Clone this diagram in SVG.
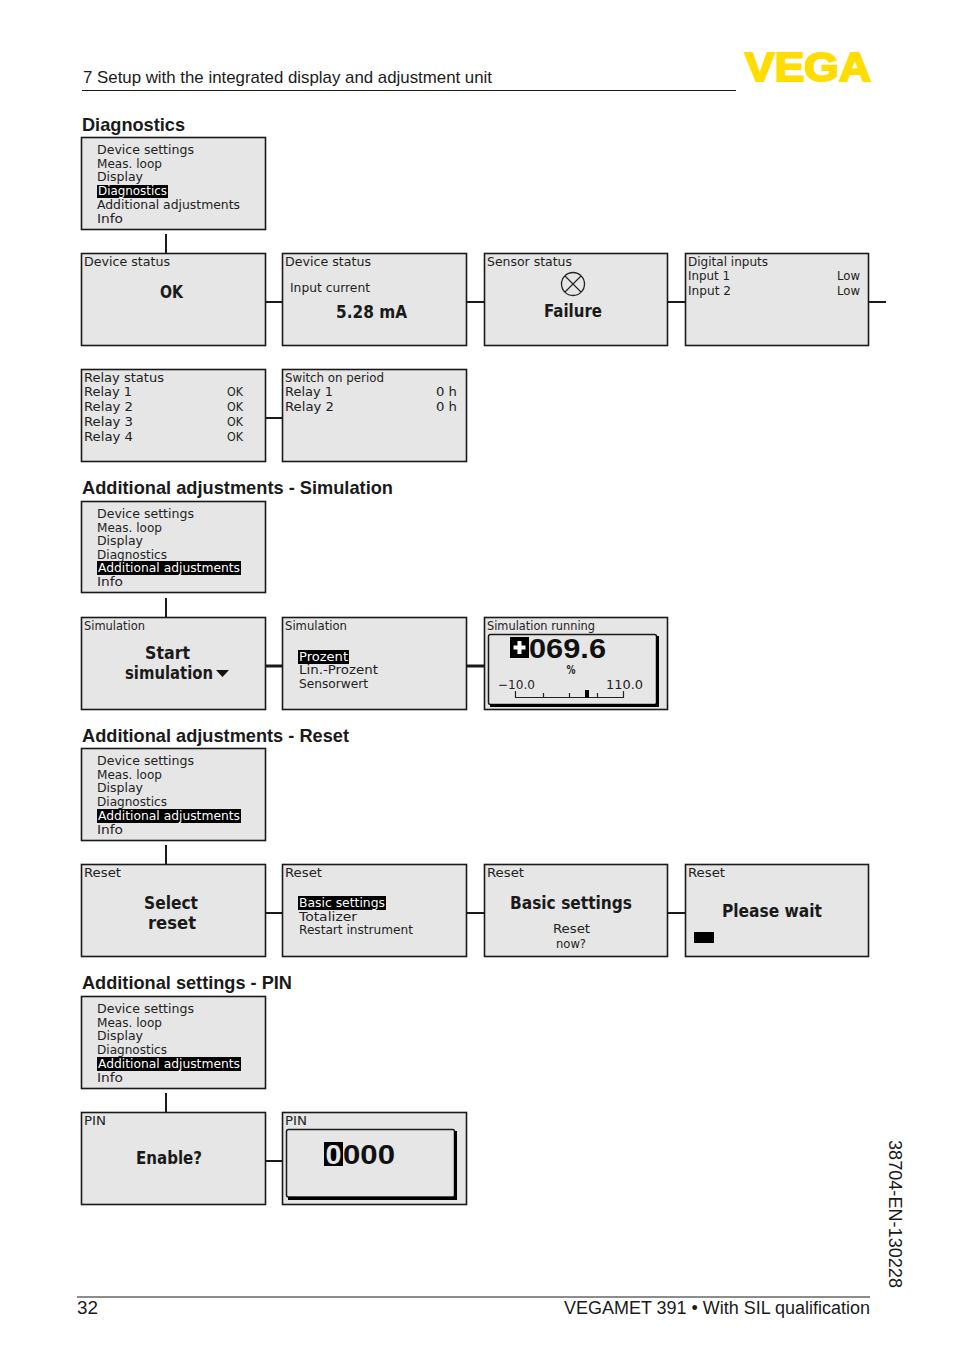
<svg xmlns="http://www.w3.org/2000/svg" width="954" height="1354" viewBox="0 0 954 1354">
<style>
.box{fill:#e6e6e6;stroke:#1a1a1a;stroke-width:1.6}
.hd{font-family:"Liberation Sans",Arial,sans-serif;font-size:17px;fill:#1a1a1a}
.ti{font-family:"Liberation Sans",Arial,sans-serif;font-size:18.5px;font-weight:bold;fill:#1a1a1a}
.s{font-family:"DejaVu Sans",sans-serif;font-size:12.5px;fill:#222}
.b{font-family:"DejaVu Sans",sans-serif;font-size:17px;font-weight:bold;fill:#1a1a1a}
.w{fill:#fff}
.k{fill:#000}
.con{stroke:#1a1a1a;stroke-width:2;fill:none}
.con2{stroke:#1a1a1a;stroke-width:3;fill:none}
.pn{fill:none;stroke:#1a1a1a;stroke-width:1.5}
.sh{fill:none;stroke:#000;stroke-width:3}
</style>
<rect width="954" height="1354" fill="#fff"/>
<g id="header">
<text class="hd" x="83" y="83" textLength="409" lengthAdjust="spacingAndGlyphs">7 Setup with the integrated display and adjustment unit</text>
<line x1="82" y1="90.5" x2="736" y2="90.5" stroke="#1a1a1a" stroke-width="1.2"/>
<text x="745" y="81" textLength="126" lengthAdjust="spacingAndGlyphs" style="font-family:'Liberation Sans',Arial,sans-serif;font-size:40px;font-weight:bold;fill:#ffdd00;stroke:#ffdd00;stroke-width:2">VEGA</text>
</g>
<text class="ti" x="82" y="131" textLength="103" lengthAdjust="spacingAndGlyphs">Diagnostics</text>
<text class="ti" x="82" y="494" textLength="311" lengthAdjust="spacingAndGlyphs">Additional adjustments - Simulation</text>
<text class="ti" x="82" y="742" textLength="267" lengthAdjust="spacingAndGlyphs">Additional adjustments - Reset</text>
<text class="ti" x="82" y="989" textLength="210" lengthAdjust="spacingAndGlyphs">Additional settings - PIN</text>
<g id="connectors">
<path class="con" d="M166 234V254M266 302H283M467 302H485M668 302H686M869 302H886M266 418H283M166 598V618M166 845V865M266 913H283M467 913H485M668 913H686M166 1093V1113M266 1161H283"/>
<path class="con2" d="M266 666H283M467 666H485"/>
</g>
<g id="menu-diagnostics">
<rect class="box" x="81.5" y="137.5" width="184" height="92"/>
<rect class="k" x="97" y="185" width="71" height="13"/>
<text class="s" x="97" y="154" textLength="97" lengthAdjust="spacingAndGlyphs">Device settings</text>
<text class="s" x="97" y="168" textLength="65" lengthAdjust="spacingAndGlyphs">Meas. loop</text>
<text class="s" x="97" y="181" textLength="46" lengthAdjust="spacingAndGlyphs">Display</text>
<text class="s w" x="98" y="195" textLength="69" lengthAdjust="spacingAndGlyphs">Diagnostics</text>
<text class="s" x="97" y="209" textLength="143" lengthAdjust="spacingAndGlyphs">Additional adjustments</text>
<text class="s" x="97" y="223" textLength="26" lengthAdjust="spacingAndGlyphs">Info</text>
</g>
<g id="device-status-ok">
<rect class="box" x="81.5" y="253.5" width="184" height="92"/>
<text class="s" x="84" y="266" textLength="86" lengthAdjust="spacingAndGlyphs">Device status</text>
<text class="b" x="160" y="298" textLength="23" lengthAdjust="spacingAndGlyphs">OK</text>
</g>
<g id="device-status-current">
<rect class="box" x="282.5" y="253.5" width="184" height="92"/>
<text class="s" x="285" y="266" textLength="86" lengthAdjust="spacingAndGlyphs">Device status</text>
<text class="s" x="290" y="292" textLength="80" lengthAdjust="spacingAndGlyphs">Input current</text>
<text class="b" x="336" y="318" textLength="71" lengthAdjust="spacingAndGlyphs">5.28 mA</text>
</g>
<g id="sensor-status">
<rect class="box" x="484.5" y="253.5" width="183" height="92"/>
<text class="s" x="487" y="266" textLength="85" lengthAdjust="spacingAndGlyphs">Sensor status</text>
<circle cx="573" cy="284" r="11.5" fill="none" stroke="#222" stroke-width="1.3"/>
<path d="M565 276L581 292M581 276L565 292" stroke="#222" stroke-width="1.1" fill="none"/>
<text class="b" x="544" y="317" textLength="58" lengthAdjust="spacingAndGlyphs">Failure</text>
</g>
<g id="digital-inputs">
<rect class="box" x="685.5" y="253.5" width="183" height="92"/>
<text class="s" x="688" y="266" textLength="80" lengthAdjust="spacingAndGlyphs">Digital inputs</text>
<text class="s" x="688" y="280" textLength="42" lengthAdjust="spacingAndGlyphs">Input 1</text>
<text class="s" x="837" y="280" textLength="23" lengthAdjust="spacingAndGlyphs">Low</text>
<text class="s" x="688" y="295" textLength="43" lengthAdjust="spacingAndGlyphs">Input 2</text>
<text class="s" x="837" y="295" textLength="23" lengthAdjust="spacingAndGlyphs">Low</text>
</g>
<g id="relay-status">
<rect class="box" x="81.5" y="369.5" width="184" height="92"/>
<text class="s" x="84" y="382" textLength="80" lengthAdjust="spacingAndGlyphs">Relay status</text>
<text class="s" x="84" y="396" textLength="48" lengthAdjust="spacingAndGlyphs">Relay 1</text>
<text class="s" x="227" y="396" textLength="16" lengthAdjust="spacingAndGlyphs">OK</text>
<text class="s" x="84" y="411" textLength="49" lengthAdjust="spacingAndGlyphs">Relay 2</text>
<text class="s" x="227" y="411" textLength="16" lengthAdjust="spacingAndGlyphs">OK</text>
<text class="s" x="84" y="426" textLength="49" lengthAdjust="spacingAndGlyphs">Relay 3</text>
<text class="s" x="227" y="426" textLength="16" lengthAdjust="spacingAndGlyphs">OK</text>
<text class="s" x="84" y="441" textLength="49" lengthAdjust="spacingAndGlyphs">Relay 4</text>
<text class="s" x="227" y="441" textLength="16" lengthAdjust="spacingAndGlyphs">OK</text>
</g>
<g id="switch-on-period">
<rect class="box" x="282.5" y="369.5" width="184" height="92"/>
<text class="s" x="285" y="382" textLength="99" lengthAdjust="spacingAndGlyphs">Switch on period</text>
<text class="s" x="285" y="396" textLength="48" lengthAdjust="spacingAndGlyphs">Relay 1</text>
<text class="s" x="436" y="396" textLength="21" lengthAdjust="spacingAndGlyphs">0 h</text>
<text class="s" x="285" y="411" textLength="49" lengthAdjust="spacingAndGlyphs">Relay 2</text>
<text class="s" x="436" y="411" textLength="21" lengthAdjust="spacingAndGlyphs">0 h</text>
</g>
<g id="menu-simulation">
<rect class="box" x="81.5" y="501.5" width="184" height="91"/>
<rect class="k" x="97" y="561" width="144" height="14"/>
<text class="s" x="97" y="518" textLength="97" lengthAdjust="spacingAndGlyphs">Device settings</text>
<text class="s" x="97" y="532" textLength="65" lengthAdjust="spacingAndGlyphs">Meas. loop</text>
<text class="s" x="97" y="545" textLength="46" lengthAdjust="spacingAndGlyphs">Display</text>
<text class="s" x="97" y="559" textLength="70" lengthAdjust="spacingAndGlyphs">Diagnostics</text>
<text class="s w" x="98" y="572" textLength="142" lengthAdjust="spacingAndGlyphs">Additional adjustments</text>
<text class="s" x="97" y="586" textLength="26" lengthAdjust="spacingAndGlyphs">Info</text>
</g>
<g id="simulation-start">
<rect class="box" x="81.5" y="617.5" width="184" height="92"/>
<text class="s" x="84" y="630" textLength="61" lengthAdjust="spacingAndGlyphs">Simulation</text>
<text class="b" x="145" y="659" textLength="45" lengthAdjust="spacingAndGlyphs">Start</text>
<text class="b" x="125" y="679" textLength="88" lengthAdjust="spacingAndGlyphs">simulation</text>
<polygon points="216,670 229,670 222.5,677" fill="#111"/>
</g>
<g id="simulation-select">
<rect class="box" x="282.5" y="617.5" width="184" height="92"/>
<text class="s" x="285" y="630" textLength="62" lengthAdjust="spacingAndGlyphs">Simulation</text>
<rect class="k" x="298" y="650" width="51" height="14"/>
<text class="s w" x="299" y="661" textLength="49" lengthAdjust="spacingAndGlyphs">Prozent</text>
<text class="s" x="299" y="674" textLength="79" lengthAdjust="spacingAndGlyphs">Lin.-Prozent</text>
<text class="s" x="299" y="688" textLength="69" lengthAdjust="spacingAndGlyphs">Sensorwert</text>
</g>
<g id="simulation-running">
<rect class="box" x="484.5" y="617.5" width="183" height="92"/>
<text class="s" x="487" y="630" textLength="108" lengthAdjust="spacingAndGlyphs">Simulation running</text>
<rect class="pn" x="488.5" y="634.5" width="168" height="70" rx="2"/>
<path class="sh" d="M657.5 636V705.5H490"/>
<rect class="k" x="510" y="637" width="19" height="21"/>
<path d="M519.5 641V654M513.5 647.5H525.5" stroke="#fff" stroke-width="4" fill="none"/>
<text x="529" y="658" textLength="77" lengthAdjust="spacingAndGlyphs" style="font-family:'Liberation Sans',sans-serif;font-size:28px;font-weight:bold;fill:#111">069.6</text>
<text class="s" x="566.500" y="674" textLength="9" lengthAdjust="spacingAndGlyphs" style="font-weight:bold">%</text>
<text class="s" x="498" y="689" textLength="37" lengthAdjust="spacingAndGlyphs">−10.0</text>
<text class="s" x="606" y="689" textLength="37" lengthAdjust="spacingAndGlyphs">110.0</text>
<path d="M515.5 691V697.5H623.5V691M543.5 693V697M569.5 693V697M597.5 693V697" fill="none" stroke="#222" stroke-width="1.2"/>
<rect class="k" x="585" y="690" width="4" height="8"/>
</g>
<g id="menu-reset">
<rect class="box" x="81.5" y="748.5" width="184" height="92"/>
<rect class="k" x="97" y="809" width="144" height="14"/>
<text class="s" x="97" y="765" textLength="97" lengthAdjust="spacingAndGlyphs">Device settings</text>
<text class="s" x="97" y="779" textLength="65" lengthAdjust="spacingAndGlyphs">Meas. loop</text>
<text class="s" x="97" y="792" textLength="46" lengthAdjust="spacingAndGlyphs">Display</text>
<text class="s" x="97" y="806" textLength="70" lengthAdjust="spacingAndGlyphs">Diagnostics</text>
<text class="s w" x="98" y="820" textLength="142" lengthAdjust="spacingAndGlyphs">Additional adjustments</text>
<text class="s" x="97" y="834" textLength="26" lengthAdjust="spacingAndGlyphs">Info</text>
</g>
<g id="reset-select">
<rect class="box" x="81.5" y="864.5" width="184" height="92"/>
<text class="s" x="84" y="877" textLength="37" lengthAdjust="spacingAndGlyphs">Reset</text>
<text class="b" x="144" y="909" textLength="54" lengthAdjust="spacingAndGlyphs">Select</text>
<text class="b" x="148" y="929" textLength="48" lengthAdjust="spacingAndGlyphs">reset</text>
</g>
<g id="reset-options">
<rect class="box" x="282.5" y="864.5" width="184" height="92"/>
<text class="s" x="285" y="877" textLength="37" lengthAdjust="spacingAndGlyphs">Reset</text>
<rect class="k" x="298" y="896" width="88" height="14"/>
<text class="s w" x="299" y="907" textLength="86" lengthAdjust="spacingAndGlyphs">Basic settings</text>
<text class="s" x="299" y="921" textLength="58" lengthAdjust="spacingAndGlyphs">Totalizer</text>
<text class="s" x="299" y="934" textLength="114" lengthAdjust="spacingAndGlyphs">Restart instrument</text>
</g>
<g id="reset-confirm">
<rect class="box" x="484.5" y="864.5" width="183" height="92"/>
<text class="s" x="487" y="877" textLength="37" lengthAdjust="spacingAndGlyphs">Reset</text>
<text class="b" x="510" y="909" textLength="122" lengthAdjust="spacingAndGlyphs">Basic settings</text>
<text class="s" x="553" y="933" textLength="37" lengthAdjust="spacingAndGlyphs">Reset</text>
<text class="s" x="556" y="948" textLength="30" lengthAdjust="spacingAndGlyphs">now?</text>
</g>
<g id="reset-wait">
<rect class="box" x="685.5" y="864.5" width="183" height="92"/>
<text class="s" x="688" y="877" textLength="37" lengthAdjust="spacingAndGlyphs">Reset</text>
<text class="b" x="722" y="917" textLength="100" lengthAdjust="spacingAndGlyphs">Please wait</text>
<rect class="k" x="694" y="932" width="20" height="11"/>
</g>
<g id="menu-pin">
<rect class="box" x="81.5" y="996.5" width="184" height="92"/>
<rect class="k" x="97" y="1057" width="144" height="14"/>
<text class="s" x="97" y="1013" textLength="97" lengthAdjust="spacingAndGlyphs">Device settings</text>
<text class="s" x="97" y="1027" textLength="65" lengthAdjust="spacingAndGlyphs">Meas. loop</text>
<text class="s" x="97" y="1040" textLength="46" lengthAdjust="spacingAndGlyphs">Display</text>
<text class="s" x="97" y="1054" textLength="70" lengthAdjust="spacingAndGlyphs">Diagnostics</text>
<text class="s w" x="98" y="1068" textLength="142" lengthAdjust="spacingAndGlyphs">Additional adjustments</text>
<text class="s" x="97" y="1082" textLength="26" lengthAdjust="spacingAndGlyphs">Info</text>
</g>
<g id="pin-enable">
<rect class="box" x="81.5" y="1112.5" width="184" height="92"/>
<text class="s" x="84" y="1125" textLength="22" lengthAdjust="spacingAndGlyphs">PIN</text>
<text class="b" x="136" y="1164" textLength="66" lengthAdjust="spacingAndGlyphs">Enable?</text>
</g>
<g id="pin-entry">
<rect class="box" x="282.5" y="1112.5" width="184" height="92"/>
<text class="s" x="285" y="1125" textLength="22" lengthAdjust="spacingAndGlyphs">PIN</text>
<rect class="pn" x="286.5" y="1129.5" width="168" height="67.500" rx="2"/>
<path class="sh" d="M455.500 1131V1198.500H288"/>
<rect class="k" x="324" y="1142" width="19" height="24"/>
<text x="325.500" y="1164" textLength="16" lengthAdjust="spacingAndGlyphs" style="font-family:'Liberation Sans',sans-serif;font-size:28px;font-weight:bold;fill:#e6e6e6">0</text>
<text x="343" y="1164" textLength="52" lengthAdjust="spacingAndGlyphs" style="font-family:'Liberation Sans',sans-serif;font-size:28px;font-weight:bold;fill:#111">000</text>
</g>
<g id="footer">
<line x1="77" y1="1297" x2="870" y2="1297" stroke="#1a1a1a" stroke-width="1"/>
<text class="hd" x="77" y="1314" textLength="21" lengthAdjust="spacingAndGlyphs" style="font-size:18px">32</text>
<text class="hd" x="564" y="1314" textLength="306" lengthAdjust="spacingAndGlyphs" style="font-size:18px">VEGAMET 391 • With SIL qualification</text>
<text class="hd" transform="translate(889 1140) rotate(90)" x="0" y="0" textLength="148" lengthAdjust="spacingAndGlyphs" style="font-size:18px">38704-EN-130228</text>
</g>
</svg>
